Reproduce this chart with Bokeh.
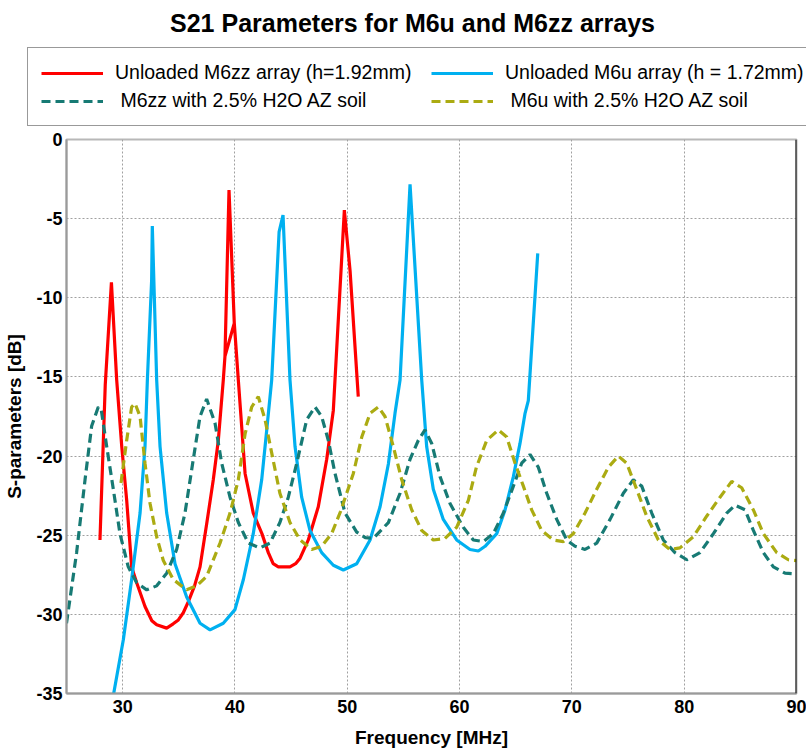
from bokeh.plotting import figure
from bokeh.models import Legend, LegendItem, Span, Range1d, Label, PrintfTickFormatter
from bokeh.layouts import column, row
from bokeh.embed import file_html
from bokeh.resources import INLINE

# ---- data ----
red_f = [27.98, 28.45, 29.0, 29.47, 29.92, 30.36, 30.8, 31.25, 31.99, 32.6, 33.03, 33.92, 34.5, 34.96,
         35.4, 35.85, 36.4, 36.89, 37.5, 38.07, 38.52, 38.96, 39.11, 39.47, 39.94, 39.11, 39.94, 40.3,
         40.9, 41.63, 42.4, 42.97, 43.4, 43.86, 44.9, 45.4, 45.8, 46.53, 47.42, 48.17, 48.76, 49.74,
         50.25, 50.98]
red_db = [-25.3, -15.5, -9.03, -15.2, -19.4, -22.8, -27.0, -28.0, -29.5, -30.4, -30.66, -30.87, -30.6, -30.35,
          -29.9, -29.2, -28.2, -27.0, -24.2, -21.5, -19.0, -15.2, -13.7, -3.2, -11.6, -13.7, -11.6, -15.2,
          -21.1, -23.6, -24.9, -26.1, -26.8, -27.0, -27.0, -26.8, -26.45, -25.3, -23.2, -20.2, -17.1, -4.46,
          -8.3, -16.25]

blue_f = [29.05, 30.06, 30.8, 31.55, 31.99, 32.2, 32.58, 32.64, 33.03, 33.33, 33.92, 34.66, 35.7, 36.89,
          37.78, 38.96, 40.0, 40.75, 41.63, 42.38, 42.83, 43.27, 43.93, 44.28, 44.9, 45.35, 45.94, 46.68,
          47.72, 48.76, 49.65, 50.84, 52.03, 52.92, 53.66, 54.25, 54.7, 55.59, 56.63, 57.07, 57.66, 58.55,
          59.74, 60.93, 61.67, 62.27, 63.31, 64.05, 64.79, 65.38, 65.83, 66.12, 66.96]
blue_db = [-35.6, -31.6, -27.8, -23.6, -19.4, -15.2, -8.9, -5.47, -15.2, -19.4, -23.6, -26.8, -28.9, -30.56,
           -30.98, -30.56, -29.7, -27.8, -24.9, -21.5, -18.35, -15.2, -5.83, -4.78, -15.2, -19.4, -22.6, -24.7,
           -26.1, -26.9, -27.2, -26.8, -25.3, -23.2, -20.5, -17.3, -15.2, -2.83, -15.2, -19.4, -22.1, -24.0,
           -25.3, -25.9, -26.0, -25.7, -24.9, -23.4, -21.3, -19.2, -17.3, -16.5, -7.2]

teal_f = [25.0, 25.9, 26.65, 27.24, 27.83, 28.1, 28.58, 29.17, 29.76, 30.5, 31.25, 32.14, 33.03, 33.92,
          34.81, 35.55, 36.29, 36.89, 37.48, 38.22, 38.82, 39.56, 40.3, 41.19, 42.23, 43.12, 44.0, 44.75,
          45.5, 46.39, 47.13, 47.72, 48.31, 48.91, 49.8, 50.84, 51.6, 52.32, 53.66, 54.7, 55.59, 56.33,
          56.92, 57.52, 58.26, 59.15, 60.33, 61.22, 62.11, 63.0, 63.9, 64.79, 65.53, 66.27, 67.01, 67.76,
          68.65, 69.54, 70.28, 71.17, 72.21, 73.4, 74.58, 75.47, 76.22, 77.11, 78.14, 79.18, 80.23, 81.41,
          82.6, 83.79, 84.53, 85.42, 86.16, 87.05, 87.94, 88.98, 90.0]
teal_db = [-30.56, -26.1, -21.5, -18.1, -16.9, -17.1, -19.4, -22.1, -24.9, -27.0, -28.0, -28.45, -28.2, -27.4,
           -25.9, -23.6, -20.2, -17.5, -16.4, -17.9, -20.45, -22.6, -24.2, -25.5, -25.8, -25.5, -24.2, -22.6,
           -20.45, -17.7, -16.9, -17.5, -19.0, -21.1, -23.6, -24.8, -25.15, -25.2, -24.2, -22.35, -20.2, -19.0,
           -18.35, -19.2, -21.3, -23.0, -24.5, -25.3, -25.4, -24.9, -23.6, -21.9, -20.45, -19.9, -20.7, -22.35,
           -24.0, -25.3, -25.7, -25.9, -25.5, -24.0, -22.35, -21.5, -21.9, -23.6, -25.3, -26.1, -26.55, -26.1,
           -24.9, -23.6, -23.1, -23.4, -24.7, -26.1, -27.0, -27.4, -27.45]

olive_f = [29.85, 30.36, 30.8, 31.1, 31.55, 31.99, 32.44, 33.03, 33.62, 34.51, 35.7, 36.59, 37.48, 38.67,
           39.56, 40.3, 40.9, 41.49, 42.08, 42.68, 43.27, 44.0, 44.9, 45.8, 46.83, 47.72, 48.61, 49.4,
           50.54, 51.29, 52.03, 52.77, 53.36, 54.1, 54.85, 55.74, 56.63, 57.66, 58.7, 59.74, 60.78, 61.5,
           62.42, 63.45, 64.2, 64.94, 65.68, 66.42, 67.31, 68.35, 69.24, 70.13, 71.17, 72.21, 73.25, 74.14,
           74.88, 75.77, 76.66, 77.7, 78.73, 79.62, 80.81, 82.0, 83.19, 84.23, 85.12, 86.16, 87.05, 88.24,
           89.27, 90.0]
olive_db = [-21.7, -19.0, -16.9, -16.67, -17.5, -20.45, -23.0, -25.1, -26.6, -27.8, -28.45, -28.2, -27.6, -25.5,
            -23.6, -21.5, -18.6, -16.9, -16.25, -17.7, -19.8, -22.35, -24.2, -25.3, -25.9, -25.7, -24.9, -23.5,
            -21.1, -18.8, -17.3, -16.9, -17.5, -19.4, -21.5, -23.4, -24.7, -25.3, -25.2, -24.5, -22.8, -20.7,
            -19.0, -18.35, -18.8, -20.45, -21.9, -23.4, -24.7, -25.3, -25.4, -24.9, -23.6, -22.1, -20.7, -20.0,
            -20.45, -22.1, -23.8, -25.3, -25.9, -25.8, -25.1, -23.8, -22.6, -21.6, -22.0, -23.4, -24.9, -26.1,
            -26.55, -26.6]

x_ticks = [30, 40, 50, 60, 70, 80, 90]
y_ticks = [-35, -30, -25, -20, -15, -10, -5, 0]

title_text = "S21 Parameters for M6u and M6zz arrays"
labels = ["Unloaded M6zz array (h=1.92mm)", "Unloaded M6u array (h = 1.72mm)",
          " M6zz with 2.5% H2O AZ soil", " M6u with 2.5% H2O AZ soil"]
colors = ["#ff0000", "#00b0f0", "#177a74", "#abab12"]
dashes = ["solid", "solid", "9 5", "9 5"]

FONT = "Liberation Sans"
W = 806
H_TOP = 128
H_MAIN = 626

# ---------- header: title + legend ----------
top = figure(width=W, height=H_TOP, output_backend="svg", toolbar_location=None,
             x_axis_type=None, y_axis_type=None, x_range=Range1d(0, 1), y_range=Range1d(0, 1),
             min_border=0, min_border_left=0, min_border_right=0, min_border_top=0, min_border_bottom=0)
top.grid.visible = False
top.outline_line_color = None
top.add_layout(Label(x=412, y=H_TOP - 22, x_units="screen", y_units="screen", text=title_text,
                     text_font=FONT, text_font_size="25px", text_font_style="bold",
                     text_align="center", text_baseline="middle", text_color="black"))
dummies = [top.line([0.5, 0.5], [2, 2], line_color=c, line_width=3.2, line_dash=d)
           for c, d in zip(colors, dashes)]
legend = Legend(items=[LegendItem(label=l, renderers=[r]) for l, r in zip(labels, dummies)],
                orientation="horizontal", ncols=2,
                location=(27, 2), padding=13, spacing=5, margin=0,
                glyph_width=62, glyph_height=20, label_standoff=12, label_width=311,
                label_text_font=FONT, label_text_font_size="19.5px", label_text_color="black",
                border_line_color="#333333", border_line_width=1, background_fill_alpha=1.0)
top.add_layout(legend, "center")

# ---------- main chart ----------
p = figure(width=W, height=H_MAIN, output_backend="svg", toolbar_location=None,
           x_range=Range1d(25, 90), y_range=Range1d(-35, 0),
           min_border_left=66, min_border_right=10, min_border_top=139 - H_TOP, min_border_bottom=61)

for ax in (p.xaxis[0], p.yaxis[0]):
    ax.major_label_text_font = FONT
    ax.major_label_text_font_size = "18px"
    ax.major_label_text_font_style = "bold"
    ax.major_label_text_color = "black"
    ax.axis_label_text_font = FONT
    ax.axis_label_text_font_size = "19px"
    ax.axis_label_text_font_style = "bold"
    ax.axis_label_text_color = "black"
    ax.axis_line_color = "#9a9a9a"
    ax.axis_line_width = 2
    ax.major_tick_out = 0
    ax.major_tick_in = 0
    ax.minor_tick_out = 0
    ax.minor_tick_in = 0
    ax.formatter = PrintfTickFormatter(format="%d")

p.xaxis.ticker = x_ticks
p.yaxis.ticker = y_ticks
p.xaxis.axis_label = "Frequency [MHz]"
p.yaxis.axis_label = "S-parameters [dB]"
p.xaxis.major_label_standoff = 6
p.xaxis.axis_label_standoff = 11
p.yaxis.major_label_standoff = 4
p.yaxis.axis_label_standoff = 8

for g in (p.xgrid[0], p.ygrid[0]):
    g.grid_line_color = "#a0a0a0"
    g.grid_line_dash = "2 2"
    g.grid_line_width = 1

p.outline_line_color = "#b8b8b8"
p.outline_line_width = 2
p.add_layout(Span(location=90, dimension="height", line_color="black", line_width=2))

series = [(red_f, red_db), (blue_f, blue_db), (teal_f, teal_db), (olive_f, olive_db)]
for (fx, fy), c, d in zip(series, colors, dashes):
    p.line(fx, fy, line_color=c, line_width=3.2, line_dash=d)

layout = column(row(top), p, spacing=0)
open("out.html", "w").write(file_html(layout, INLINE))
